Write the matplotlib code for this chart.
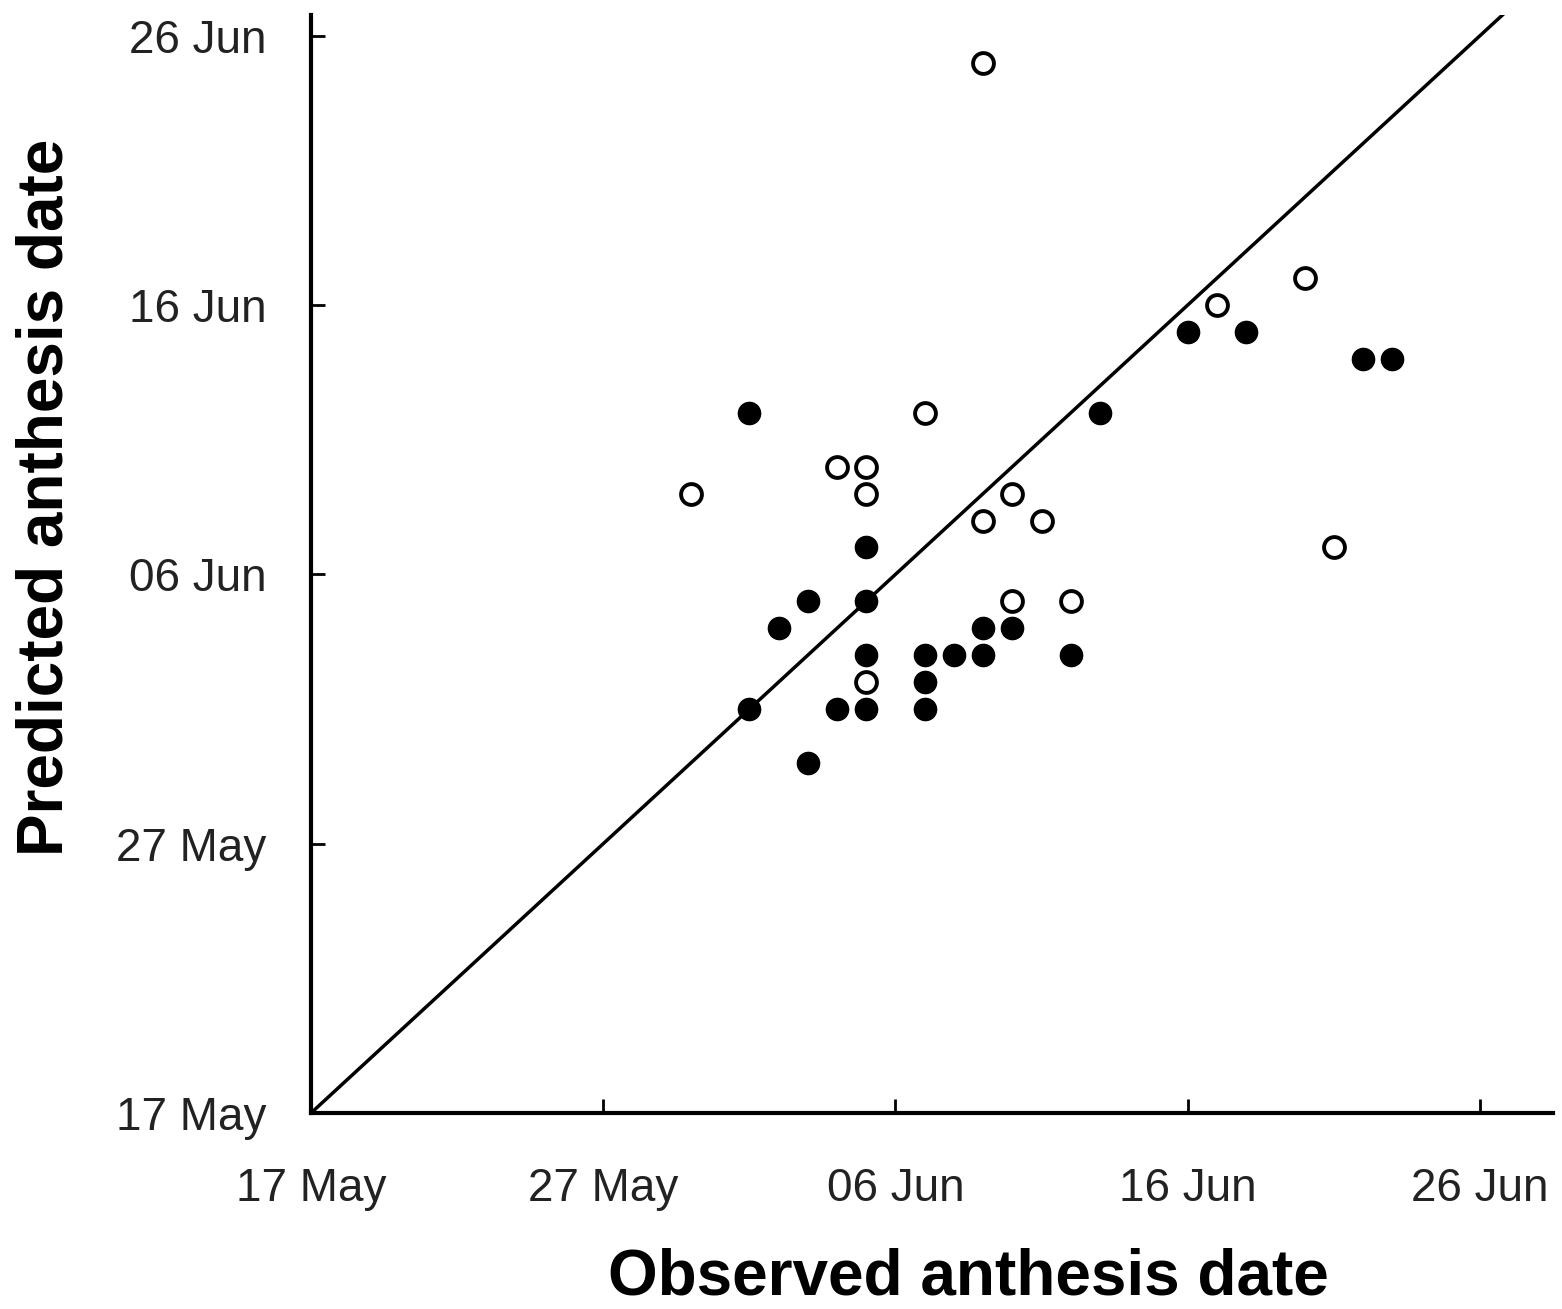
#!/usr/bin/env python3
# -*- coding: utf-8 -*-

import numpy as np
import matplotlib
matplotlib.use('Agg')
import matplotlib.pyplot as plt
import matplotlib.dates as mdates

# filled circles
obs_filled = ['2010-06-01', '2010-06-02', '2010-06-03', '2010-06-03', '2010-06-01',
              '2010-06-04', '2010-06-05', '2010-06-05', '2010-06-05', '2010-06-05',
              '2010-06-07', '2010-06-07', '2010-06-07', '2010-06-08', '2010-06-09',
              '2010-06-09', '2010-06-10', '2010-06-12', '2010-06-13', '2010-06-16',
              '2010-06-18', '2010-06-22', '2010-06-23']
pred_filled = ['2010-06-12', '2010-06-04', '2010-06-05', '2010-05-30', '2010-06-01',
               '2010-06-01', '2010-06-07', '2010-06-05', '2010-06-03', '2010-06-01',
               '2010-06-03', '2010-06-02', '2010-06-01', '2010-06-03', '2010-06-04',
               '2010-06-03', '2010-06-04', '2010-06-03', '2010-06-12', '2010-06-15',
               '2010-06-15', '2010-06-14', '2010-06-14']

# open circles
obs_open = ['2010-06-09', '2010-05-30', '2010-06-04', '2010-06-05', '2010-06-05',
            '2010-06-07', '2010-06-09', '2010-06-10', '2010-06-11', '2010-06-10',
            '2010-06-12', '2010-06-05', '2010-06-17', '2010-06-20', '2010-06-21']
pred_open = ['2010-06-25', '2010-06-09', '2010-06-10', '2010-06-10', '2010-06-09',
             '2010-06-12', '2010-06-08', '2010-06-09', '2010-06-08', '2010-06-05',
             '2010-06-05', '2010-06-02', '2010-06-16', '2010-06-17', '2010-06-07']

tick_dates = ['2010-05-17', '2010-05-27', '2010-06-06', '2010-06-16', '2010-06-26']


def to_num(lst):
    return mdates.date2num(np.array(lst, dtype='datetime64[D]'))


def main():
    plt.rcParams['font.family'] = ['Liberation Sans', 'DejaVu Sans']

    fig = plt.figure(figsize=(15.62, 13.09), dpi=100)
    ax = fig.add_axes([0.1991, 0.1497, 0.7951, 0.8388])

    start = to_num(['2010-05-17'])[0]
    xmax = start + 42.5
    ymax = start + 40.77

    # 1:1 line
    ax.plot([start, ymax], [start, ymax], color='black', lw=2.5, zorder=1)

    ax.plot(to_num(obs_filled), to_num(pred_filled), 'o', ms=16,
            color='black', mec='black', zorder=3)
    ax.plot(to_num(obs_open), to_num(pred_open), 'o', ms=15, mew=2.8,
            mfc='white', mec='black', zorder=3)

    ax.set_xlim(start, xmax)
    ax.set_ylim(start, ymax)

    ticks = to_num(tick_dates)
    ax.set_xticks(ticks)
    ax.set_yticks(ticks)
    fmt = mdates.DateFormatter('%d %b')
    ax.xaxis.set_major_formatter(fmt)
    ax.yaxis.set_major_formatter(fmt)

    for s in ['top', 'right']:
        ax.spines[s].set_visible(False)
    for s in ['left', 'bottom']:
        ax.spines[s].set_linewidth(3)

    ax.tick_params(axis='both', direction='in', length=10, width=2,
                   labelsize=33, labelcolor='#222222')
    ax.tick_params(axis='x', pad=39)
    ax.tick_params(axis='y', pad=32)

    ax.set_xlabel('Observed anthesis date', fontsize=46, fontweight='bold')
    ax.set_ylabel('Predicted anthesis date', fontsize=46, fontweight='bold')
    ax.xaxis.set_label_coords(0.529, -0.15)
    ax.yaxis.set_label_coords(-0.214, 0.561)
    ax.xaxis.label.set_va('center')
    ax.yaxis.label.set_va('center')

    fig.savefig('out.png', dpi=100)


if __name__ == '__main__':
    main()
